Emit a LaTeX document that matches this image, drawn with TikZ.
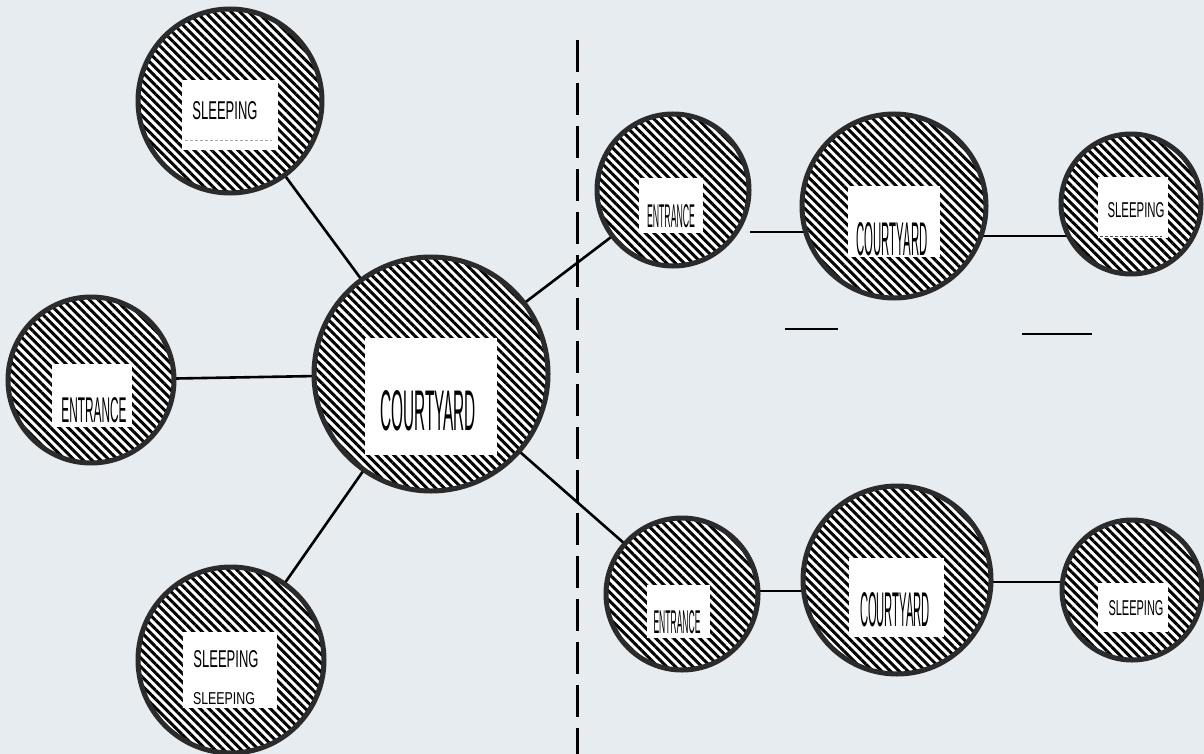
\documentclass[tikz,border=0pt]{standalone}
\usepackage{fontspec}
\setsansfont{Liberation Sans}
\usetikzlibrary{patterns.meta}
\definecolor{bgc}{HTML}{E7ECF1}
\definecolor{rim}{HTML}{2B2B2B}
\pgfdeclarelayer{bg}
\pgfsetlayers{bg,main}
\newcommand\lbl[3]{\resizebox{#1pt}{#2pt}{\sffamily #3}}
\begin{document}
\begin{tikzpicture}[x=1pt,y=-1pt,
  room/.style={circle, draw=rim, line width=5pt, preaction={fill=white},
    pattern={Lines[angle=-45,distance=6.2pt,line width=3pt]}, pattern color=black,
    inner sep=0pt, minimum size=#1},
  tag/.style={fill=white, inner sep=0pt, draw=none},
  txt/.style={inner sep=0pt, text=black},
  conn/.style={line width=2.6pt, draw=black},
  mark line/.style={line width=2.8pt, draw=black},
  faint/.style={line width=0.9pt, draw=gray!70, dash pattern=on 3pt off 2pt}]
\useasboundingbox (0,0) rectangle (1204,754);
% rooms
\node[room=184pt] (TLS) at (230,101) {};
\node[room=166pt] (LE)  at (91,380) {};
\node[room=234pt] (C)   at (431,374) {};
\node[room=186pt] (BLS) at (231,660) {};
\node[room=152pt] (TRE) at (673,190) {};
\node[room=184pt] (TRC) at (894,206) {};
\node[room=140pt] (TRS) at (1131,204) {};
\node[room=152pt] (BRE) at (682,594) {};
\node[room=188pt] (BRC) at (897,580) {};
\node[room=140pt] (BRS) at (1132,590) {};
% white label boxes
\node[tag, minimum width=96pt, minimum height=70pt]  (TLSb) at (230,115) {};
\node[tag, minimum width=80pt, minimum height=63pt]  (LEb)  at (92,395.5) {};
\node[tag, minimum width=132pt, minimum height=117pt] (Cb)  at (431,396.5) {};
\node[tag, minimum width=94pt, minimum height=76pt]  (BLSb) at (230,670) {};
\node[tag, minimum width=64pt, minimum height=55pt]  (TREb) at (671,205.5) {};
\node[tag, minimum width=92pt, minimum height=71pt]  (TRCb) at (894,221.5) {};
\node[tag, minimum width=70pt, minimum height=61pt]  (TRSb) at (1133,207.5) {};
\node[tag, minimum width=63pt, minimum height=53pt]  (BREb) at (678.5,611.5) {};
\node[tag, minimum width=95pt, minimum height=79pt]  (BRCb) at (896.5,597.5) {};
\node[tag, minimum width=70pt, minimum height=49pt]  (BRSb) at (1133,607.5) {};
% texts
\node[txt] (TLSt)  at (225,111) {\lbl{65}{18}{SLEEPING}};
\node[txt] (LEt)   at (94,410)  {\lbl{65}{25}{ENTRANCE}};
\node[txt] (Ct)    at (428,411) {\lbl{96}{40}{COURTYARD}};
\node[txt] (BLSt)  at (226,659) {\lbl{65}{17}{SLEEPING}};
\node[txt] (BLSt2) at (224,699) {\lbl{62}{12}{SLEEPING}};
\node[txt] (TREt)  at (671,216) {\lbl{48}{23}{ENTRANCE}};
\node[txt] (TRCt)  at (892,239) {\lbl{71}{33}{COURTYARD}};
\node[txt] (TRSt)  at (1136,210) {\lbl{57}{15}{SLEEPING}};
\node[txt] (BREt)  at (677,622) {\lbl{47}{23}{ENTRANCE}};
\node[txt] (BRCt)  at (895,610) {\lbl{70}{34}{COURTYARD}};
\node[txt] (BRSt)  at (1136,608) {\lbl{55}{15}{SLEEPING}};
% faint marks inside boxes
\coordinate (f1a) at (185,140); \coordinate (f1b) at (272,140);
\draw[faint] (f1a) -- (f1b);
\coordinate (f2a) at (1100,236); \coordinate (f2b) at (1162,236);
\draw[faint, draw=black!70] (f2a) -- (f2b);
% helper coordinates for offset connectors
\coordinate (h1) at (750,232);
\coordinate (h2) at (982,236);
\coordinate (h3) at (760,591);
\coordinate (h4) at (990,582);
% free marks
\coordinate (m1a) at (785,329); \coordinate (m1b) at (838,329);
\coordinate (m2a) at (1022,334); \coordinate (m2b) at (1092,334);
\draw[mark line] (m1a) -- (m1b);
\draw[mark line] (m2a) -- (m2b);
% divider
\coordinate (d1) at (577,40); \coordinate (d2) at (577,754);
\draw[line width=3pt, dash pattern=on 32pt off 11pt] (d1) -- (d2);
\begin{pgfonlayer}{bg}
  \fill[bgc] (0,0) rectangle (1204,754);
  \draw[conn] (TLS.center) -- (C.center);
  \draw[conn] (LE.center) -- (C.center);
  \draw[conn] (BLS.center) -- (C.center);
  \draw[conn] (C.center) -- (TRE.center);
  \draw[conn] (C.center) -- (BRE.center);
  \draw[conn] (h1) -- (h1 -| TRC.center);
  \draw[conn] (h2 -| TRC.center) -- (h2 -| TRS.center);
  \draw[conn] (h3 -| BRE.center) -- (h3 -| BRC.center);
  \draw[conn] (h4 -| BRC.center) -- (h4 -| BRS.center);
\end{pgfonlayer}
\end{tikzpicture}
\end{document}
